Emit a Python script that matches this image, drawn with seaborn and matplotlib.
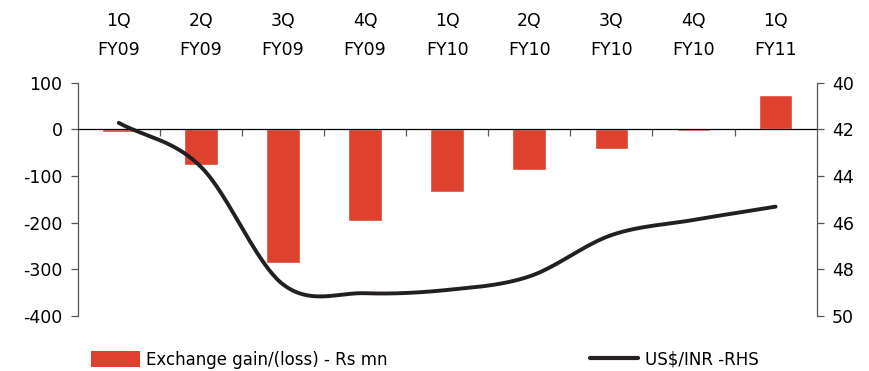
import numpy as np
import pandas as pd
import matplotlib
matplotlib.use("Agg")
import matplotlib.pyplot as plt
import seaborn as sns
from matplotlib.patches import Patch
from matplotlib.lines import Line2D

quarters = ["1Q\nFY09", "2Q\nFY09", "3Q\nFY09", "4Q\nFY09", "1Q\nFY10",
            "2Q\nFY10", "3Q\nFY10", "4Q\nFY10", "1Q\nFY11"]
exchange_gain = [-5, -76, -286, -196, -134, -86, -42, -3, 73]
usd_inr = [41.72, 43.6, 48.64, 49.02, 48.88, 48.3, 46.53, 45.88, 45.31]

BAR_COLOR = "#DE412E"
LINE_COLOR = "#231F20"

sns.set_theme(style="white")
plt.rcParams['font.family'] = ['DejaVu Sans']
plt.rcParams['axes.unicode_minus'] = False
plt.rcParams['text.color'] = '#000000'

fig = plt.figure(figsize=(8.69, 3.71), dpi=100)
ax = fig.add_axes([0.0894, 0.148, 0.8504, 0.629])

df = pd.DataFrame({"q": quarters, "v": exchange_gain})
sns.barplot(data=df, x="q", y="v", color=BAR_COLOR, saturation=1, width=0.41, ax=ax)
ax.set_xlim(-0.5, len(quarters) - 0.5)
ax.set_ylim(-400, 100)
ax.set_yticks([100, 0, -100, -200, -300, -400])
ax.set_xlabel("")
ax.set_ylabel("")

# bottom spine at zero with boundary ticks
ax.spines['bottom'].set_position(('data', 0))
ax.spines['top'].set_visible(False)
ax.spines['right'].set_visible(False)
ax.spines['bottom'].set_color("#000000")
ax.spines['bottom'].set_linewidth(0.9)
ax.spines['left'].set_color("#555555")
ax.spines['left'].set_linewidth(0.9)
ax.set_xticks(np.arange(0.5, len(quarters) - 0.5, 1.0))
ax.set_xticklabels([])
ax.tick_params(axis='x', bottom=True, direction='out', length=5, width=0.9, color="#555555")
ax.tick_params(axis='y', left=True, direction='out', length=5, width=0.9, color="#555555",
               labelsize=12.5, pad=6, labelcolor="#000000")

# top category labels
sec = ax.secondary_xaxis('top')
sec.set_xticks(range(len(quarters)))
sec.set_xticklabels(quarters, fontsize=12.5, linespacing=1.8, color="#000000")
sec.tick_params(length=0, pad=17, labelcolor="#000000")
sec.spines['top'].set_visible(False)

# right axis line
ax2 = ax.twinx()
n = len(usd_inr)
xs = np.arange(n, dtype=float)
ys = np.array(usd_inr, dtype=float)
# Catmull-Rom smoothing of the drawn line (like a smoothed spreadsheet line)
px, py = [], []
P = np.column_stack([xs, ys])
Pe = np.vstack([P[0] - (P[1] - P[0]), P, P[-1] + (P[-1] - P[-2])])
for i in range(n - 1):
    p0, p1, p2, p3 = Pe[i], Pe[i + 1], Pe[i + 2], Pe[i + 3]
    t = np.linspace(0, 1, 40, endpoint=(i == n - 2))[:, None]
    seg = 0.5 * ((2 * p1) + (-p0 + p2) * t + (2 * p0 - 5 * p1 + 4 * p2 - p3) * t ** 2
                 + (-p0 + 3 * p1 - 3 * p2 + p3) * t ** 3)
    px.extend(seg[:, 0]); py.extend(seg[:, 1])
sns.lineplot(x=px, y=py, ax=ax2, color=LINE_COLOR, linewidth=2.8, sort=False,
             solid_capstyle='round')
ax2.set_ylim(50, 40)
ax2.set_yticks([40, 42, 44, 46, 48, 50])
for s in ['top', 'bottom', 'left']:
    ax2.spines[s].set_visible(False)
ax2.spines['right'].set_color("#555555")
ax2.spines['right'].set_linewidth(0.9)
ax2.tick_params(axis='y', right=True, direction='out', length=5, width=0.9, color="#555555",
                labelsize=12.5, pad=6, labelcolor="#000000")
ax2.set_xlim(-0.5, len(quarters) - 0.5)

handles = [Patch(facecolor=BAR_COLOR, edgecolor='none'),
           Line2D([0], [0], color=LINE_COLOR, linewidth=3)]
fig.legend(handles, ["Exchange gain/(loss) - Rs mn", "US$/INR -RHS"],
           loc='lower left', bbox_to_anchor=(0.088, -0.035), ncol=2, frameon=False,
           fontsize=12, handlelength=2.9, handleheight=1.1, columnspacing=12.1,
           handletextpad=0.4)

fig.savefig("out.png", dpi=100)
